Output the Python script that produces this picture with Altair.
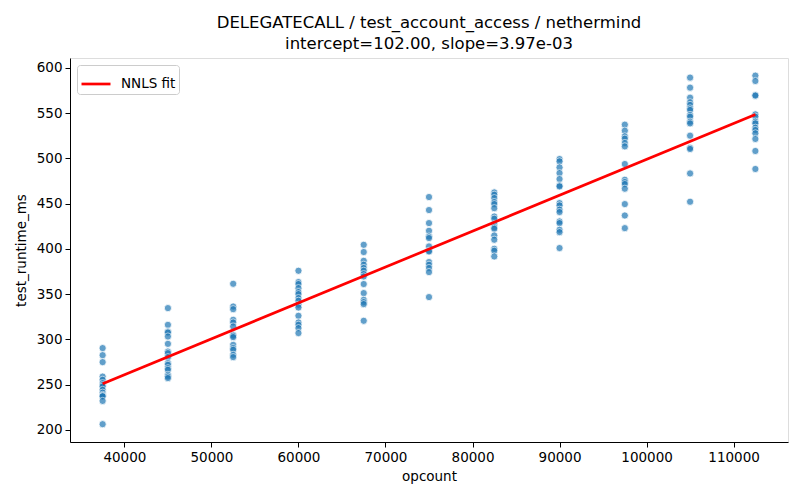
import altair as alt
import pandas as pd

# ---- data ----
opcount_levels = [37500, 45000, 52500, 60000, 67500, 75000, 82500, 90000, 97500, 105000, 112500]

rt_37500 = [290.3, 282.5, 274.8, 258.8, 255.2, 251.5, 249.5, 247.8, 244.1, 241.0, 238.6, 237.5, 237.0, 231.9, 206.2]
rt_45000 = [334.5, 316.0, 308.6, 307.5, 303.1, 295.0, 286.5, 284.7, 280.3, 273.7, 271.8, 268.1, 266.3, 260.8, 258.9, 257.1]
rt_52500 = [361.4, 336.3, 333.3, 321.6, 318.6, 314.2, 305.0, 303.9, 302.4, 293.9, 290.3, 288.4, 282.9, 280.3]
rt_60000 = [375.8, 363.3, 361.1, 356.6, 352.2, 350.0, 345.6, 342.6, 338.2, 335.2, 326.0, 318.6, 316.0, 312.4, 306.9]
rt_67500 = [404.5, 396.5, 386.8, 382.4, 378.8, 375.8, 372.1, 369.5, 361.1, 351.1, 343.7, 341.1, 338.9, 320.5]
rt_75000 = [457.3, 442.9, 428.5, 420.0, 413.7, 411.9, 402.7, 397.9, 397.1, 385.4, 382.4, 378.8, 374.3, 346.7]
rt_82500 = [462.4, 459.8, 456.1, 451.7, 449.5, 445.0, 435.8, 433.3, 427.4, 423.7, 422.2, 414.8, 410.1, 400.1, 397.9, 391.6]
rt_90000 = [499.3, 496.7, 490.0, 483.8, 477.2, 470.1, 469.0, 450.6, 448.0, 443.3, 440.7, 430.3, 428.5, 421.1, 418.5, 400.9]
rt_97500 = [537.3, 530.6, 524.4, 521.8, 517.0, 513.3, 493.8, 476.4, 473.8, 471.6, 466.5, 449.5, 436.9, 422.9]
rt_105000 = [589.3, 578.2, 567.1, 562.0, 559.1, 555.3, 553.5, 548.0, 546.1, 540.6, 538.7, 525.1, 511.8, 510.4, 483.4, 452.1]
rt_112500 = [591.5, 585.6, 570.1, 569.4, 548.7, 546.1, 540.6, 538.7, 533.9, 531.4, 527.7, 521.5, 508.2, 488.3]

runtime_columns = [rt_37500, rt_45000, rt_52500, rt_60000, rt_67500, rt_75000,
                   rt_82500, rt_90000, rt_97500, rt_105000, rt_112500]

fit_intercept = 102.00
fit_slope = 3.97e-03
fit_x = [37500, 112500]

x_ticks = [40000, 50000, 60000, 70000, 80000, 90000, 100000, 110000]
y_ticks = [200, 250, 300, 350, 400, 450, 500, 550, 600]

title_lines = ["DELEGATECALL / test_account_access / nethermind",
               "intercept=102.00, slope=3.97e-03"]

# ---- tables ----
rows = []
for oc, vals in zip(opcount_levels, runtime_columns):
    for v in vals:
        rows.append({"opcount": oc, "test_runtime_ms": v})
points = pd.DataFrame(rows)

fit = pd.DataFrame({
    "opcount": fit_x,
    "test_runtime_ms": [fit_intercept + fit_slope * x for x in fit_x],
    "series": ["NNLS fit"] * len(fit_x),
})

FONT = "DejaVu Sans"

x_scale = alt.Scale(domain=[33750, 116250], nice=False, zero=False)
y_scale = alt.Scale(domain=[186.5, 611], nice=False, zero=False)

x_axis = alt.Axis(values=x_ticks, format="d", grid=False, title="opcount",
                  labelFontSize=13.5, titleFontSize=13.5, labelFont=FONT, titleFont=FONT,
                  titleFontWeight="normal", labelColor="black", titleColor="black",
                  domainColor="black", tickColor="black", tickSize=5, labelPadding=3,
                  titlePadding=6, labelFlush=False)
y_axis = alt.Axis(values=y_ticks, grid=False, title="test_runtime_ms",
                  labelFontSize=13.5, titleFontSize=13.5, labelFont=FONT, titleFont=FONT,
                  titleFontWeight="normal", labelColor="black", titleColor="black",
                  domainColor="black", tickColor="black", tickSize=5, labelPadding=3,
                  titlePadding=8)

scatter = alt.Chart(points).mark_circle(
    size=52, color="#1f77b4", opacity=0.7, stroke="white", strokeWidth=0.8
).encode(
    x=alt.X("opcount:Q", scale=x_scale, axis=x_axis),
    y=alt.Y("test_runtime_ms:Q", scale=y_scale, axis=y_axis),
)

line = alt.Chart(fit).mark_line(strokeWidth=2.7).encode(
    x=alt.X("opcount:Q", scale=x_scale),
    y=alt.Y("test_runtime_ms:Q", scale=y_scale),
    color=alt.Color("series:N",
                    scale=alt.Scale(domain=["NNLS fit"], range=["red"]),
                    legend=alt.Legend(title=None, orient="top-left", offset=7,
                                      symbolType="stroke", symbolSize=841,
                                      symbolStrokeWidth=2.7,
                                      labelFontSize=13.5, labelFont=FONT,
                                      labelColor="black", labelOffset=9,
                                      fillColor="white", strokeColor="#cccccc",
                                      cornerRadius=3, padding=3)),
)

chart = alt.layer(scatter, line).properties(
    width=718, height=384,
    title=alt.Title(text=title_lines, fontSize=16.5, font=FONT, fontWeight="normal",
                    color="black", anchor="middle", lineHeight=21, offset=6),
    padding={"left": 62, "top": 50, "right": 4, "bottom": 54},
    autosize=alt.AutoSizeParams(type="none"),
).configure_view(
    stroke="black", strokeWidth=1
).configure(background="white")

chart.save("out.html", embed_options={"renderer": "svg", "actions": False})
